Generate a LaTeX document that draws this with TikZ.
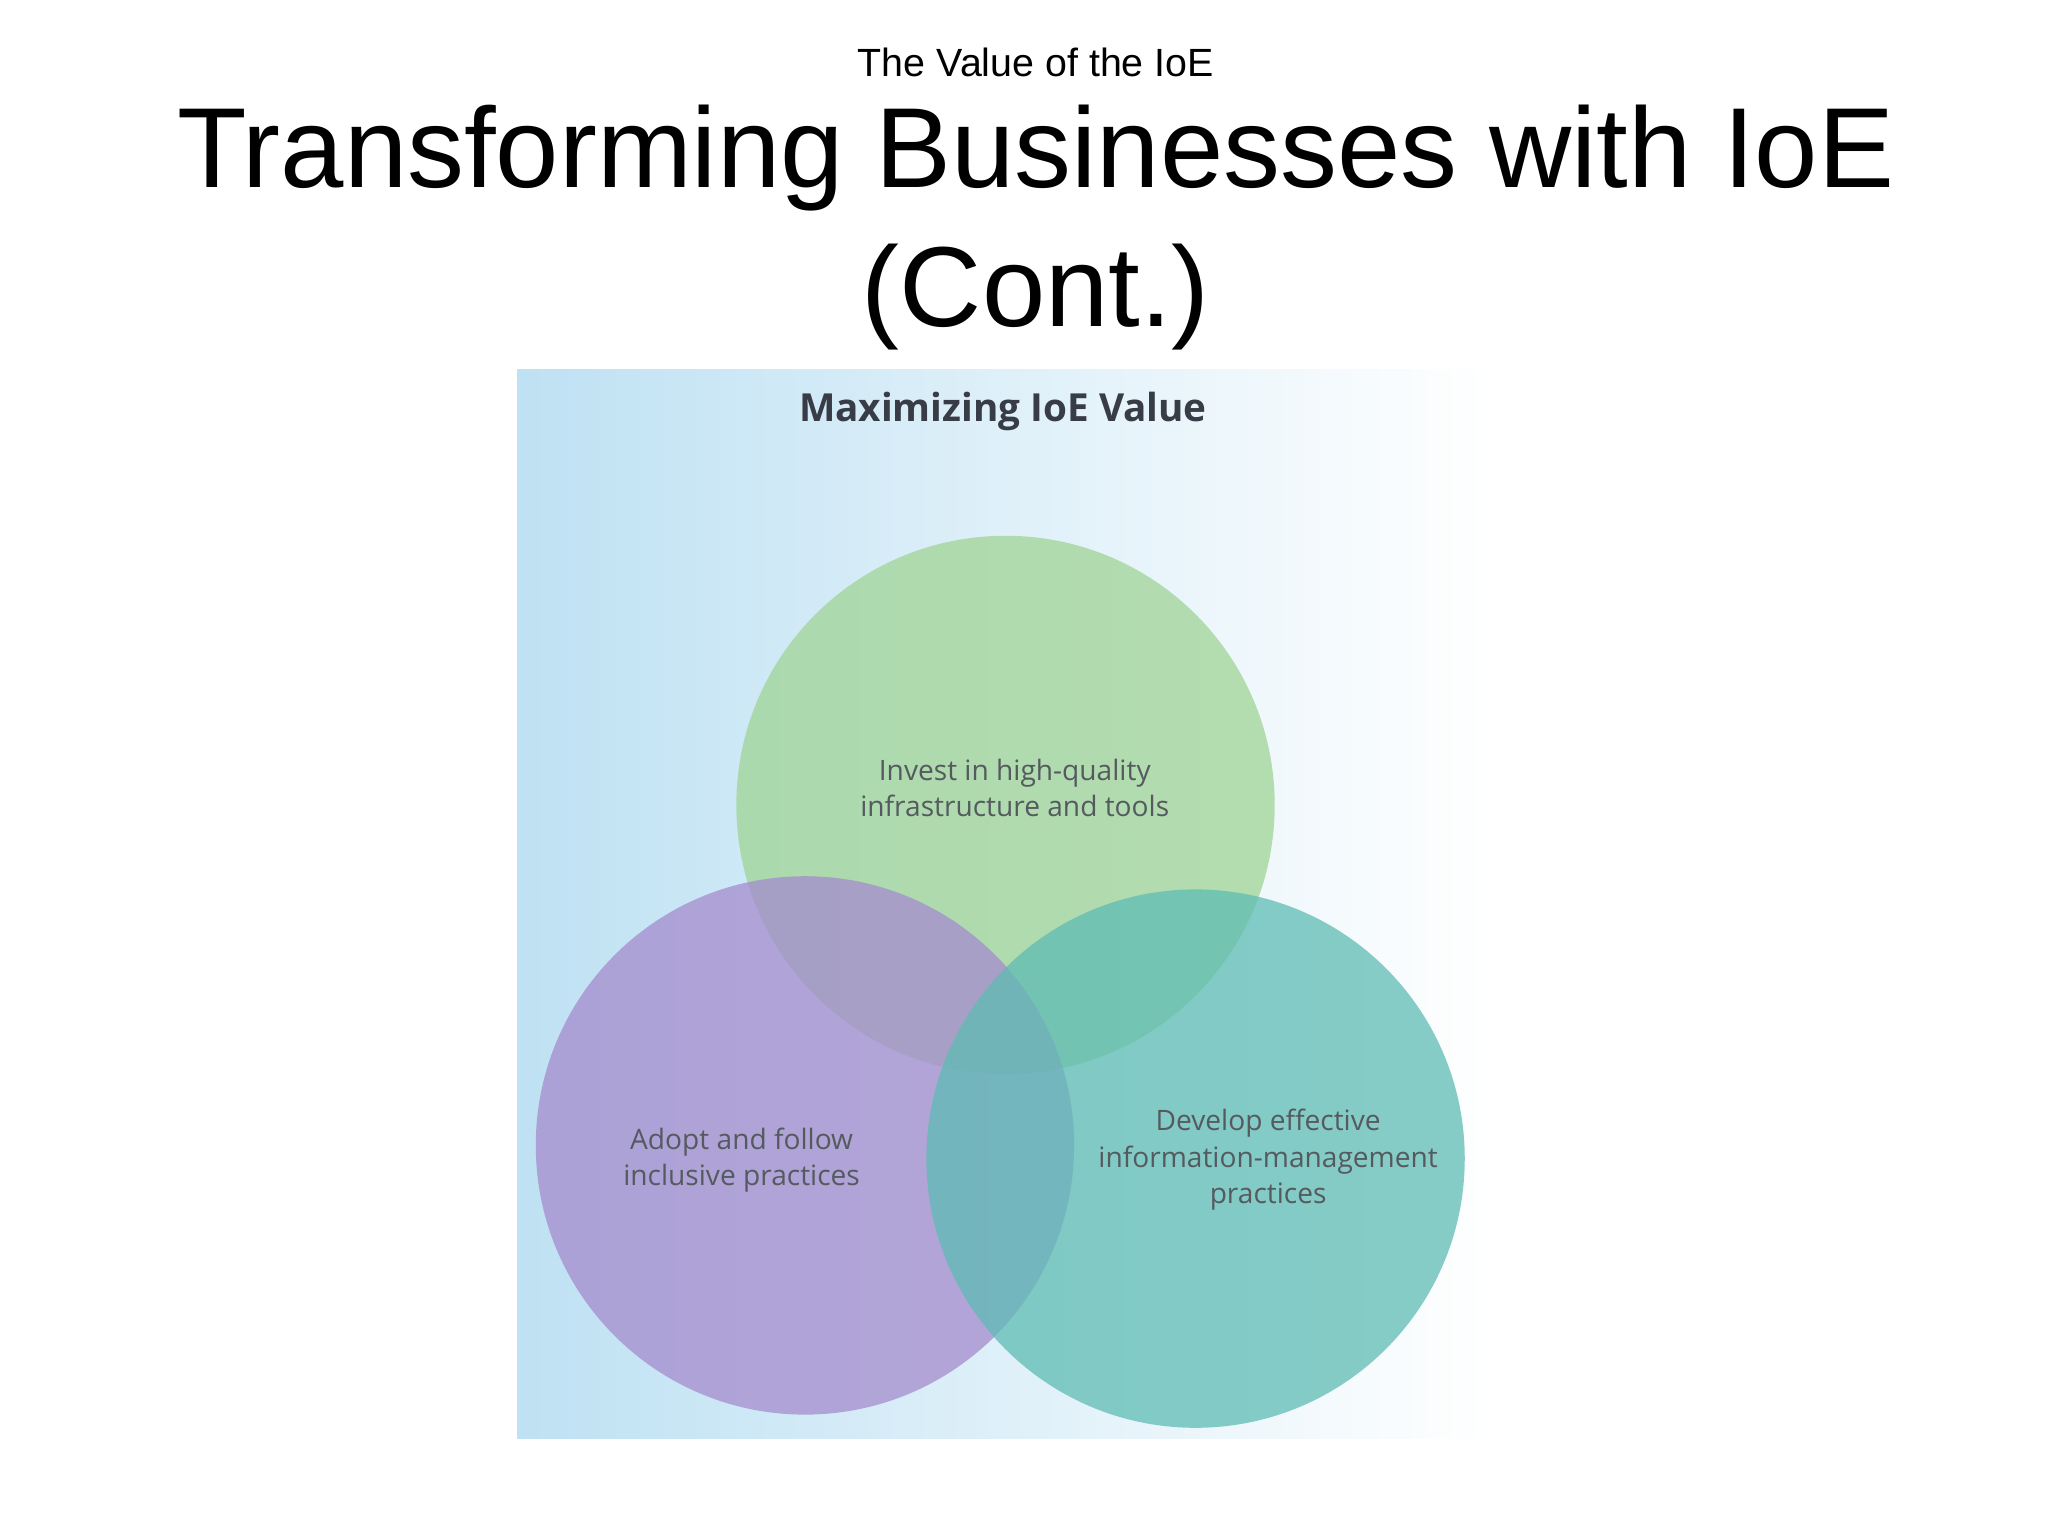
\documentclass[tikz,border=0pt]{standalone}
\usepackage{fontspec}
\setmainfont{Liberation Sans}
\newfontfamily\panelfont{Open Sans}
\definecolor{panelblue}{RGB}{190,225,243}
\definecolor{cgreen}{RGB}{160,212,150}
\definecolor{cpurple}{RGB}{165,140,205}
\definecolor{cteal}{RGB}{95,188,180}
\definecolor{txtgray}{RGB}{85,90,95}
\definecolor{titlegray}{RGB}{55,60,70}
\begin{document}
\begin{tikzpicture}[x=0.013196cm,y=-0.013196cm,
  venn/.style={circle,minimum size=408*0.013196cm,inner sep=0pt,fill opacity=0.75},
  ctext/.style={font=\panelfont\fontsize{8}{10.4}\selectfont,text=txtgray,align=center}]
\useasboundingbox[fill=white] (0,0) rectangle (1552,1164);
\node (sub) at (785,47) {\fontsize{11.2}{14}\selectfont The Value of the IoE};
\node (title) at (785,120) {\fontsize{32.4}{38}\selectfont Transforming Businesses with IoE};
\node (title2) at (785,225) {\fontsize{32.4}{38}\selectfont (Cont.)};
\shade[left color=panelblue,right color=white,shading angle=90] (392,280) rectangle (1131,1090);
\node (head) at (760,312) {\panelfont\bfseries\fontsize{11}{14}\selectfont\color{titlegray}Maximizing IoE Value};
\node[venn,fill=cgreen] (g) at (762,610) {};
\node[venn,fill=cpurple] (p) at (610,868) {};
\node[venn,fill=cteal] (t) at (906,878) {};
\node[ctext] (gt) at (769,597) {Invest in high-quality\\infrastructure and tools};
\node[ctext] (pt) at (562,879) {Adopt and follow\\inclusive practices};
\node[ctext] (tt) at (961,879) {Develop effective\\information-management\\practices};
\end{tikzpicture}
\end{document}
